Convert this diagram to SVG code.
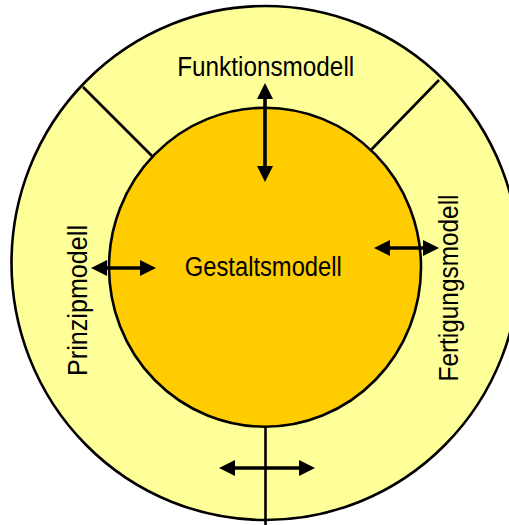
<svg xmlns="http://www.w3.org/2000/svg" width="509" height="525" viewBox="0 0 509 525">
<style>
.ring{fill:#FFFF99;stroke:#000;stroke-width:2.6}
.core{fill:#FFCC00;stroke:#000;stroke-width:2.6}
.div{stroke:#000;stroke-width:2.6;fill:none}
.arr{stroke:#000;stroke-width:3.6;fill:none;marker-start:url(#ah);marker-end:url(#ah)}
.lbl{font-family:"Liberation Sans",Arial,sans-serif;font-size:27px;fill:#000;text-anchor:middle}
</style>
<defs>
<marker id="ah" markerUnits="userSpaceOnUse" markerWidth="17" markerHeight="17" refX="7" refY="8" orient="auto-start-reverse">
<path d="M0,0 L16,8 L0,16 z" fill="#000"/>
</marker>
</defs>
<g id="outer-ring">
<ellipse class="ring" cx="265.5" cy="263" rx="254" ry="257"/>
</g>
<g id="dividers">
<line class="div" x1="83" y1="87" x2="154" y2="158"/>
<line class="div" x1="439" y1="80" x2="370" y2="151"/>
<line class="div" x1="265.5" y1="425" x2="265.5" y2="530"/>
</g>
<g id="gestaltsmodell">
<ellipse class="core" cx="265" cy="267.2" rx="156" ry="159.5"/>
<text class="lbl" x="263.3" y="276" textLength="157" lengthAdjust="spacingAndGlyphs">Gestaltsmodell</text>
</g>
<g id="funktionsmodell">
<text class="lbl" x="265.7" y="76" textLength="177" lengthAdjust="spacingAndGlyphs">Funktionsmodell</text>
</g>
<g id="prinzipmodell">
<text class="lbl" transform="translate(86.5,300.5) rotate(-90)" x="0" y="0" textLength="151" lengthAdjust="spacingAndGlyphs">Prinzipmodell</text>
</g>
<g id="fertigungsmodell">
<text class="lbl" transform="translate(457.5,288) rotate(-90)" x="0" y="0" textLength="187" lengthAdjust="spacingAndGlyphs">Fertigungsmodell</text>
</g>
<g id="connectors">
<line class="arr" x1="265" y1="92" x2="265" y2="173"/>
<line class="arr" x1="100" y1="268" x2="147" y2="268"/>
<line class="arr" x1="383" y1="248" x2="430" y2="248"/>
<line class="arr" x1="228" y1="468" x2="306" y2="468"/>
</g>
</svg>
